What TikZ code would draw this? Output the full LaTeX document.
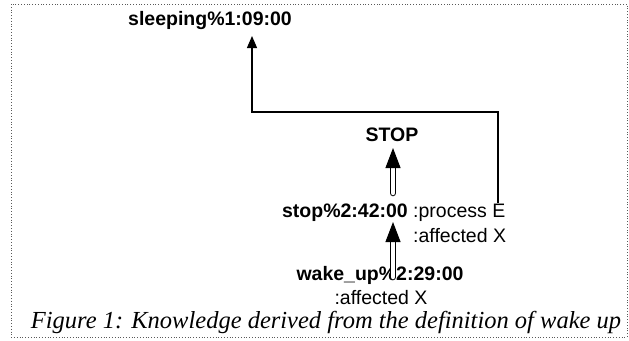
\documentclass[tikz,border=0pt]{standalone}
\usepackage{fontspec}
\setmainfont{Liberation Serif}
\setsansfont{Liberation Sans}
\usetikzlibrary{arrows.meta,calc}
\begin{document}
\begin{tikzpicture}[x=1pt,y=-1pt,
  lbl/.style={font=\sffamily\bfseries\fontsize{19.5}{21}\selectfont, inner sep=0pt},
  rol/.style={font=\sffamily\fontsize{19.5}{21}\selectfont, inner sep=0pt},
  link/.style={line width=1.3pt, -{Triangle[width=10pt,length=12pt]}},
  isa/.style={double=white, double distance=4.5pt, line width=1pt, line cap=round, -{Triangle[width=15pt,length=20pt]}},
  frame/.style={dotted, line width=0.8pt, gray!70!black}]
\useasboundingbox (0,0) rectangle (629,340);
\draw[frame] (11,4) rectangle (627,337);
\node[lbl] (sleep) at (210,21) {sleeping\%1:09:00};
\node[lbl] (STOP) at (392,135) {STOP};
\node[lbl, anchor=east] (stop) at (408,213) {stop\%2:42:00};
\node[rol, anchor=west] (proc) at (413,213) {:process E};
\node[rol, anchor=west] (aff1) at (413,236) {:affected X};
\node[lbl] (wake) at (380,275) {wake\_up\%2:29:00};
\node[rol] (aff2) at (381,298) {:affected X};
\node[font=\itshape\fontsize{24.5}{26}\selectfont, inner sep=0pt] (cap) at (326,322) {Figure 1: Knowledge derived from the definition of wake up};
\coordinate (eTop) at (498,203);
\coordinate (corner) at (252,112);
\coordinate (sTip) at (252,36);
\draw[link] (eTop) |- (corner) -- (sTip);
\coordinate (u0) at (393,193);
\coordinate (u1) at (393,148);
\draw[isa] (u0) -- (u1);
\coordinate (w0) at (393,277);
\coordinate (w1) at (393,222);
\draw[isa] (w0) -- (w1);
\end{tikzpicture}
\end{document}
